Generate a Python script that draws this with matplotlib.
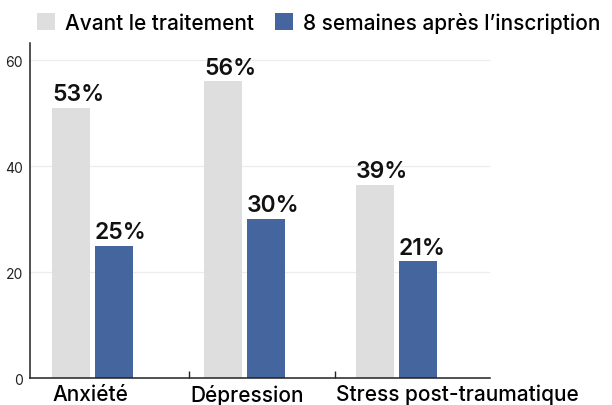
import matplotlib.pyplot as plt
import numpy as np

plt.rcParams['font.family'] = ['Inter', 'DejaVu Sans']

# data
categories = ['Anxiété', 'Dépression', 'Stress post-traumatique']
series_names = ['Avant le traitement', '8 semaines après l’inscription']
avant = [51, 56, 36.5]
apres = [25, 30, 22]
avant_labels = ['53%', '56%', '39%']
apres_labels = ['25%', '30%', '21%']
yticks = [0, 20, 40, 60]

c_avant = '#dedede'
c_apres = '#45659e'

fig = plt.figure(figsize=(6.12, 4.06), dpi=100)
ax = fig.add_axes([0.049, 0.0665, 0.752, 0.825])

x = np.arange(len(categories))
w = 0.25
off = 0.141
b1 = ax.bar(x - off, avant, w, color=c_avant, label=series_names[0])
b2 = ax.bar(x + off, apres, w, color=c_apres, label=series_names[1])

for bars, labs in [(b1, avant_labels), (b2, apres_labels)]:
    for r, t in zip(bars, labs):
        ax.text(r.get_x(), r.get_height() + 0.5, t, ha='left', va='bottom',
                fontsize=16.5, fontweight='semibold', color='#111111')

ax.set_xlim(-0.411, 2.615)
ax.set_ylim(0, 63.2)
ax.set_yticks(yticks)
ax.tick_params(axis='y', length=0, labelsize=10, labelcolor='#222222', pad=5)
ax.yaxis.grid(True, color='#ececec', linewidth=0.9)
ax.set_axisbelow(True)

# category labels left-aligned, tick marks between groups
ax.set_xticks([-0.266, 0.641, 1.602])
ax.set_xticklabels(categories, ha='left', fontsize=15, fontweight='medium')
ax.tick_params(axis='x', length=0, pad=4)
ax.set_xticks([0.635, 1.595], minor=True)
ax.tick_params(axis='x', which='minor', direction='in', length=5, width=1, color='#222222')

for s in ['top', 'right']:
    ax.spines[s].set_visible(False)
for s in ['left', 'bottom']:
    ax.spines[s].set_color('#222222')
    ax.spines[s].set_linewidth(1.1)

fig.legend(loc='upper left', bbox_to_anchor=(0.03, 1.015), ncol=2, frameon=False,
           handlelength=0.85, handleheight=0.85, handletextpad=0.5,
           columnspacing=1.0, prop={'weight': 'medium', 'size': 15})

plt.savefig('out.png', dpi=100)
